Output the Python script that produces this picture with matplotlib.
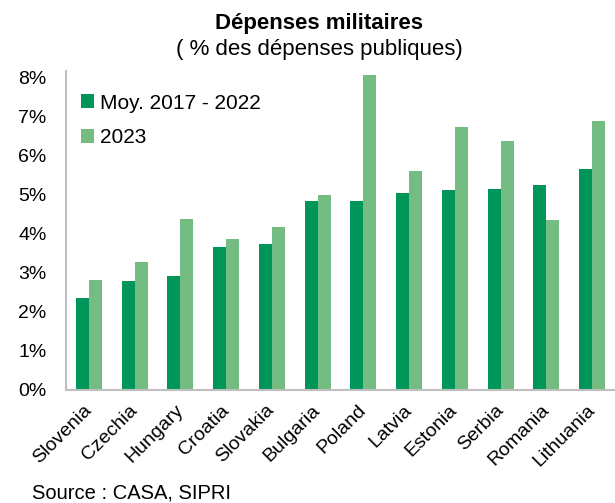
import numpy as np
import matplotlib
matplotlib.use("Agg")
import matplotlib.pyplot as plt
import matplotlib.transforms as mtrans
from matplotlib.ticker import FuncFormatter

plt.rcParams['font.family'] = ['Liberation Sans', 'DejaVu Sans']

countries = ['Slovenia', 'Czechia', 'Hungary', 'Croatia', 'Slovakia', 'Bulgaria',
             'Poland', 'Latvia', 'Estonia', 'Serbia', 'Romania', 'Lithuania']
moy_2017_2022 = [2.36, 2.80, 2.92, 3.65, 3.73, 4.83, 4.83, 5.04, 5.12, 5.14, 5.26, 5.66]
val_2023 = [2.81, 3.29, 4.39, 3.88, 4.17, 5.00, 8.08, 5.62, 6.74, 6.39, 4.35, 6.90]

dark = '#009659'
light = '#75bc83'

fig = plt.figure(figsize=(6.15, 5.03), dpi=100)
ax = fig.add_axes([66/615, 1 - 390/503, 1 - 66/615, (390 - 71)/503])

x = np.arange(len(countries))
w = 0.283
ax.bar(x - w/2, moy_2017_2022, w, color=dark, label='Moy. 2017 - 2022')
ax.bar(x + w/2, val_2023, w, color=light, label='2023')

ax.set_xlim(-0.5, len(countries) - 0.5)
ax.set_ylim(0, 8.17)
ax.set_yticks(range(0, 9))
ax.yaxis.set_major_formatter(FuncFormatter(lambda v, p: '%d%%' % v))
ax.tick_params(axis='y', length=0, labelsize=14, pad=14)
ax.tick_params(axis='x', length=0, labelsize=14, pad=2)
ax.set_xticks(x)
ax.set_xticklabels(countries, rotation=45, ha='right', rotation_mode='anchor')
# nudge the slanted country names down and left
shift = mtrans.ScaledTranslation(-6/100, -9/100, fig.dpi_scale_trans)
for lab in ax.get_xticklabels():
    lab.set_transform(lab.get_transform() + shift)

for s in ['top', 'right']:
    ax.spines[s].set_visible(False)
for s in ['left', 'bottom']:
    ax.spines[s].set_color('#bfbfbf')
    ax.spines[s].set_linewidth(1.5)

ax.legend(loc='upper left', bbox_to_anchor=(0.0, 0.975), frameon=False, fontsize=15,
          handlelength=0.65, handleheight=0.65, handletextpad=0.3, labelspacing=0.75,
          borderaxespad=0.3)

fig.text(0.519, 1 - 24/503, 'Dépenses militaires', ha='center', va='center',
         fontsize=16, fontweight='bold')
fig.text(0.52, 1 - 50/503, '( % des dépenses publiques)', ha='center', va='center',
         fontsize=16)
fig.text(32/615, 1 - 493/503, 'Source : CASA, SIPRI', ha='left', va='center', fontsize=14.5)

fig.savefig('out.png', dpi=100)
